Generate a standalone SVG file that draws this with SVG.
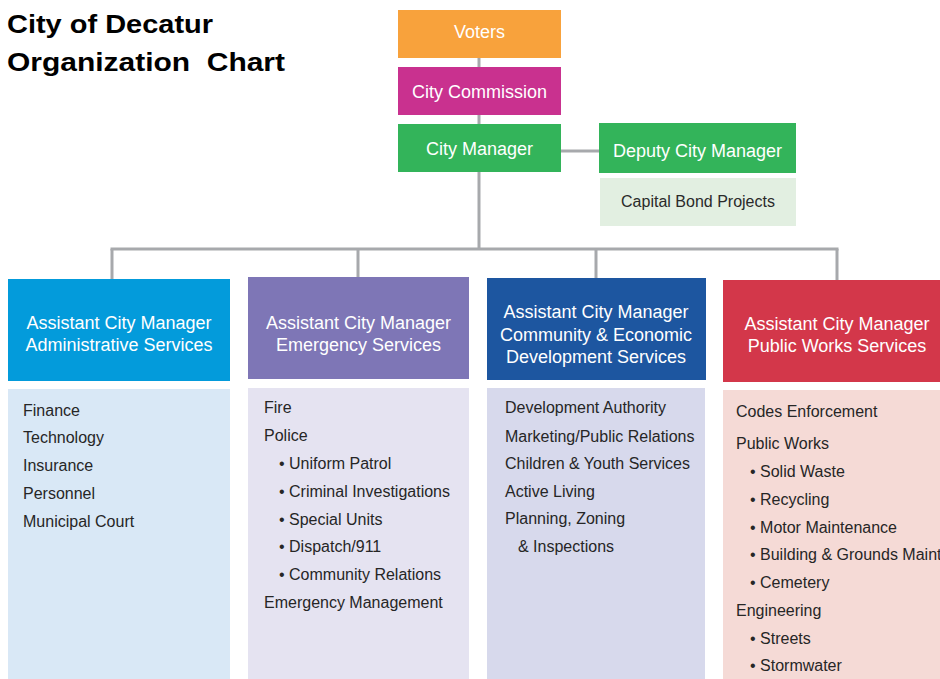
<svg xmlns="http://www.w3.org/2000/svg" width="940" height="679" viewBox="0 0 940 679">
  <style>
    .title { font-family: "Liberation Sans", Arial, sans-serif; font-weight: bold; font-size: 26.5px; fill: #000; }
    .hd { font-family: "Liberation Sans", Arial, sans-serif; font-size: 18px; fill: #ffffff; text-anchor: middle; }
    .sub { font-family: "Liberation Sans", Arial, sans-serif; font-size: 16px; fill: #2a2a2a; text-anchor: middle; }
    .item { font-family: "Liberation Sans", Arial, sans-serif; font-size: 16px; fill: #262626; }
    .conn { stroke: #a7a9ac; stroke-width: 3; fill: none; }
  </style>

  <rect width="940" height="679" fill="#ffffff"/>

  <g id="title">
    <text class="title" x="7" y="33" textLength="206" lengthAdjust="spacingAndGlyphs">City of Decatur</text>
    <text class="title" x="7" y="71" textLength="278" lengthAdjust="spacingAndGlyphs" xml:space="preserve">Organization  Chart</text>
  </g>

  <!-- connector lines -->
  <g id="connectors">
    <line class="conn" x1="479" y1="57" x2="479" y2="68"/>
    <line class="conn" x1="479" y1="114" x2="479" y2="125"/>
    <line class="conn" x1="479" y1="171" x2="479" y2="249"/>
    <line class="conn" x1="560" y1="151" x2="600" y2="151"/>
    <line class="conn" x1="110.5" y1="249" x2="838.5" y2="249"/>
    <line class="conn" x1="112" y1="249" x2="112" y2="280"/>
    <line class="conn" x1="358" y1="249" x2="358" y2="278"/>
    <line class="conn" x1="596" y1="249" x2="596" y2="279"/>
    <line class="conn" x1="837" y1="249" x2="837" y2="281"/>
  </g>

  <g id="voters">
    <rect x="398" y="10" width="163" height="48" fill="#f8a23c"/>
    <text class="hd" x="479.5" y="38">Voters</text>
  </g>

  <g id="city-commission">
    <rect x="398" y="67" width="163" height="48" fill="#c9318f"/>
    <text class="hd" x="479.5" y="98">City Commission</text>
  </g>

  <g id="city-manager">
    <rect x="398" y="124" width="163" height="48" fill="#33b45a"/>
    <text class="hd" x="479.5" y="155">City Manager</text>
  </g>

  <g id="deputy-city-manager">
    <rect x="599" y="123" width="197" height="50" fill="#33b45a"/>
    <text class="hd" x="697.5" y="157">Deputy City Manager</text>
  </g>

  <g id="capital-bond-projects">
    <rect x="600" y="178" width="196" height="48" fill="#e2efe1"/>
    <text class="sub" x="698" y="207">Capital Bond Projects</text>
  </g>

  <g id="admin-services">
    <rect x="8" y="279" width="222" height="102" fill="#039bdb"/>
    <text class="hd" x="119" y="329">Assistant City Manager</text>
    <text class="hd" x="119" y="351">Administrative Services</text>
    <rect x="8" y="389" width="222" height="290" fill="#d9e8f6"/>
    <text class="item" x="23" y="416">Finance</text>
    <text class="item" x="23" y="443">Technology</text>
    <text class="item" x="23" y="471">Insurance</text>
    <text class="item" x="23" y="499">Personnel</text>
    <text class="item" x="23" y="527">Municipal Court</text>
  </g>

  <g id="emergency-services">
    <rect x="248" y="277" width="221" height="102" fill="#7e76b6"/>
    <text class="hd" x="358.5" y="329">Assistant City Manager</text>
    <text class="hd" x="358.5" y="351">Emergency Services</text>
    <rect x="248" y="388" width="221" height="291" fill="#e5e3f1"/>
    <text class="item" x="264" y="413">Fire</text>
    <text class="item" x="264" y="441">Police</text>
    <text class="item" x="279" y="469">• Uniform Patrol</text>
    <text class="item" x="279" y="497">• Criminal Investigations</text>
    <text class="item" x="279" y="525">• Special Units</text>
    <text class="item" x="279" y="552">• Dispatch/911</text>
    <text class="item" x="279" y="580">• Community Relations</text>
    <text class="item" x="264" y="608">Emergency Management</text>
  </g>

  <g id="community-economic-development">
    <rect x="487" y="278" width="219" height="102" fill="#1d56a0"/>
    <text class="hd" x="596" y="318">Assistant City Manager</text>
    <text class="hd" x="596" y="341">Community &amp; Economic</text>
    <text class="hd" x="596" y="363">Development Services</text>
    <rect x="487" y="388" width="218" height="291" fill="#d7d9ec"/>
    <text class="item" x="505" y="413">Development Authority</text>
    <text class="item" x="505" y="442">Marketing/Public Relations</text>
    <text class="item" x="505" y="469">Children &amp; Youth Services</text>
    <text class="item" x="505" y="497">Active Living</text>
    <text class="item" x="505" y="524">Planning, Zoning</text>
    <text class="item" x="518" y="552">&amp; Inspections</text>
  </g>

  <g id="public-works-services">
    <rect x="723" y="280" width="230" height="102" fill="#d3374a"/>
    <text class="hd" x="837" y="330">Assistant City Manager</text>
    <text class="hd" x="837" y="352">Public Works Services</text>
    <rect x="723" y="390" width="230" height="289" fill="#f5dad6"/>
    <text class="item" x="736" y="417">Codes Enforcement</text>
    <text class="item" x="736" y="449">Public Works</text>
    <text class="item" x="750" y="477">• Solid Waste</text>
    <text class="item" x="750" y="505">• Recycling</text>
    <text class="item" x="750" y="533">• Motor Maintenance</text>
    <text class="item" x="750" y="560">• Building &amp; Grounds Maint</text>
    <text class="item" x="750" y="588">• Cemetery</text>
    <text class="item" x="736" y="616">Engineering</text>
    <text class="item" x="750" y="644">• Streets</text>
    <text class="item" x="750" y="671">• Stormwater</text>
  </g>
</svg>
